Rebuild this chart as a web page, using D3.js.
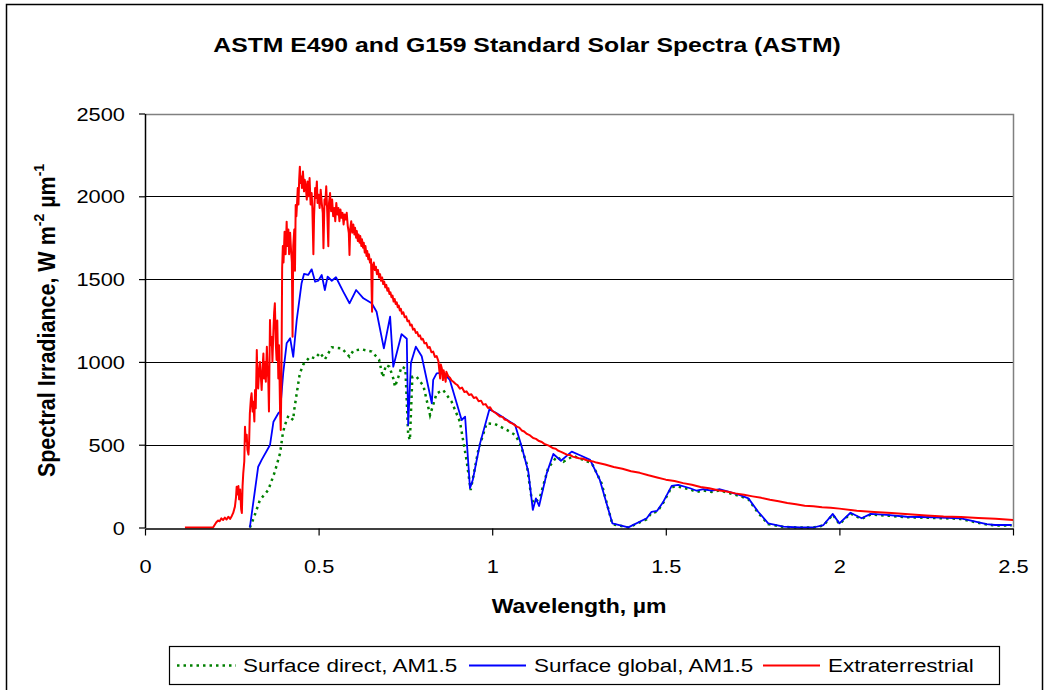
<!DOCTYPE html>
<html>
<head>
<meta charset="utf-8">
<script src="https://cdn.jsdelivr.net/npm/d3@7"></script>
<style>
  body { margin: 0; background: #fff; }
  text { font-family: "Liberation Sans", Arial, sans-serif; fill: #000; }
</style>
</head>
<body>
<script>
// wavelength (µm), spectral irradiance (W m-2 µm-1)
const extraterrestrial = [
  [0.115, 0], [0.196, 0], [0.205, 30], [0.210, 42], [0.215, 38], [0.220, 55], [0.225, 45], [0.230, 60],
  [0.235, 48], [0.240, 65], [0.245, 52], [0.250, 70], [0.254, 88], [0.259, 126], [0.262, 180], [0.264, 246],
  [0.267, 200], [0.269, 250], [0.271, 170], [0.274, 230], [0.277, 110], [0.279, 87], [0.281, 250], [0.283, 327],
  [0.286, 400], [0.288, 609], [0.290, 520], [0.293, 560], [0.295, 470], [0.298, 440], [0.300, 520], [0.302, 690],
  [0.305, 780], [0.307, 810], [0.310, 700], [0.312, 760], [0.315, 640], [0.317, 830], [0.319, 720], [0.322, 1072],
  [0.324, 900], [0.326, 840], [0.329, 960], [0.331, 1000], [0.334, 900], [0.336, 830], [0.339, 980], [0.341, 1050],
  [0.343, 900], [0.346, 1000], [0.348, 880], [0.351, 1092], [0.353, 950], [0.355, 900], [0.357, 700], [0.360, 1253],
  [0.362, 1100], [0.365, 1150], [0.367, 1000], [0.370, 1200], [0.372, 1300], [0.374, 1354], [0.377, 1100], [0.379, 1012],
  [0.381, 1250], [0.384, 900], [0.386, 1100], [0.389, 710], [0.391, 589], [0.393, 900], [0.395, 1565], [0.397, 1700],
  [0.399, 1600], [0.402, 1786], [0.405, 1650], [0.408, 1847], [0.410, 1700], [0.413, 1800], [0.415, 1650], [0.418, 1780],
  [0.420, 1700], [0.423, 1600], [0.425, 1152], [0.427, 1700], [0.430, 1800], [0.432, 1550], [0.434, 1948], [0.436, 1880],
  [0.438, 1960], [0.440, 2050], [0.442, 1950], [0.444, 2100], [0.446, 2179], [0.448, 2080], [0.450, 2120], [0.452, 2050],
  [0.455, 2150], [0.458, 2030], [0.460, 2100], [0.463, 2060], [0.466, 1980], [0.468, 2090], [0.471, 2000], [0.474, 2110],
  [0.477, 1950], [0.480, 2020], [0.482, 1930], [0.485, 1650], [0.487, 1880], [0.490, 2050], [0.492, 1990], [0.495, 2090],
  [0.497, 1960], [0.500, 2010], [0.503, 1930], [0.506, 2040], [0.509, 1960], [0.512, 1900], [0.514, 1686], [0.517, 1980],
  [0.519, 1950], [0.522, 2060], [0.525, 1900], [0.528, 1698], [0.530, 1960], [0.533, 2020], [0.536, 1910], [0.539, 1980],
  [0.542, 1880], [0.545, 1930], [0.548, 1850], [0.551, 1960], [0.554, 1890], [0.557, 1930], [0.560, 1850], [0.563, 1920],
  [0.566, 1870], [0.569, 1900], [0.572, 1830], [0.575, 1890], [0.578, 1860], [0.581, 1900], [0.584, 1820], [0.587, 1780],
  [0.589, 1646], [0.591, 1800], [0.594, 1850], [0.597, 1780], [0.600, 1830], [0.603, 1770], [0.605, 1810], [0.608, 1750],
  [0.610, 1790], [0.613, 1730], [0.615, 1770], [0.618, 1720], [0.620, 1760], [0.623, 1700], [0.625, 1740], [0.628, 1690],
  [0.630, 1720], [0.633, 1660], [0.635, 1700], [0.638, 1640], [0.640, 1670], [0.643, 1620], [0.645, 1650], [0.648, 1600],
  [0.651, 1620], [0.654, 1303], [0.656, 1580], [0.659, 1600], [0.662, 1555], [0.665, 1575], [0.668, 1530], [0.671, 1555],
  [0.674, 1510], [0.677, 1530], [0.680, 1490], [0.683, 1510], [0.686, 1470], [0.689, 1485], [0.692, 1450], [0.695, 1465],
  [0.698, 1430], [0.701, 1445], [0.704, 1410], [0.707, 1420], [0.710, 1390], [0.713, 1400], [0.716, 1365], [0.719, 1380],
  [0.722, 1350], [0.725, 1360], [0.728, 1330], [0.731, 1340], [0.734, 1310], [0.737, 1320], [0.740, 1290], [0.744, 1300],
  [0.748, 1270], [0.752, 1275], [0.756, 1245], [0.760, 1250], [0.764, 1220], [0.768, 1225], [0.772, 1195], [0.776, 1200],
  [0.780, 1175], [0.784, 1180], [0.788, 1155], [0.792, 1160], [0.796, 1135], [0.800, 1140], [0.805, 1112], [0.810, 1115],
  [0.815, 1085], [0.820, 1090], [0.825, 1058], [0.830, 1062], [0.835, 1030], [0.840, 1035], [0.845, 1005], [0.850, 900],
  [0.852, 985], [0.855, 960], [0.858, 890], [0.860, 950], [0.866, 880], [0.868, 940], [0.873, 915], [0.878, 905],
  [0.883, 888], [0.888, 880], [0.894, 868], [0.900, 860], [0.907, 838], [0.913, 845], [0.920, 818], [0.926, 822],
  [0.933, 800], [0.940, 805], [0.947, 782], [0.954, 786], [0.961, 762], [0.968, 766], [0.974, 742], [0.981, 745],
  [0.988, 722], [0.994, 726], [1.000, 705], [1.011, 690], [1.022, 670], [1.030, 668], [1.036, 652], [1.043, 648],
  [1.050, 635], [1.060, 626], [1.071, 609], [1.078, 603], [1.085, 586], [1.092, 580], [1.100, 565], [1.109, 556],
  [1.118, 540], [1.126, 535], [1.135, 522], [1.143, 516], [1.150, 505], [1.163, 494], [1.176, 478], [1.183, 476],
  [1.190, 464], [1.200, 455], [1.215, 440], [1.224, 438], [1.232, 428], [1.250, 418], [1.262, 415], [1.272, 406],
  [1.290, 399], [1.300, 392], [1.325, 380], [1.350, 365], [1.375, 355], [1.400, 340], [1.425, 330], [1.450, 315],
  [1.475, 302], [1.500, 289], [1.525, 281], [1.550, 268], [1.575, 258], [1.600, 245], [1.625, 237], [1.650, 225],
  [1.675, 217], [1.700, 206], [1.725, 198], [1.750, 188], [1.775, 179], [1.800, 168], [1.825, 159], [1.850, 148],
  [1.875, 141], [1.900, 132], [1.925, 128], [1.950, 122], [1.975, 119], [2.000, 114], [2.050, 101], [2.100, 93],
  [2.150, 87], [2.200, 80], [2.250, 73], [2.300, 67], [2.350, 64], [2.400, 58], [2.450, 53], [2.500, 45]
];

const surfaceGlobal = [
  [0.302, 0], [0.326, 367], [0.336, 408], [0.360, 498], [0.370, 639], [0.384, 690], [0.389, 700], [0.398, 931],
  [0.408, 1112], [0.418, 1143], [0.427, 1031], [0.437, 1253], [0.451, 1475], [0.458, 1531], [0.470, 1525], [0.480, 1559],
  [0.490, 1484], [0.499, 1490], [0.509, 1525], [0.518, 1434], [0.526, 1515], [0.538, 1490], [0.550, 1511], [0.571, 1424],
  [0.589, 1354], [0.608, 1434], [0.629, 1384], [0.653, 1354], [0.667, 1303], [0.688, 1082], [0.706, 1273], [0.715, 971],
  [0.739, 1168], [0.754, 1140], [0.758, 619], [0.766, 995], [0.780, 1092], [0.797, 1034], [0.826, 750], [0.830, 891],
  [0.840, 931], [0.859, 935], [0.878, 891], [0.912, 649], [0.922, 669], [0.936, 237], [0.944, 287], [0.965, 508],
  [0.992, 714], [1.013, 690], [1.066, 619], [1.085, 488], [1.104, 337], [1.117, 106], [1.126, 176], [1.135, 130],
  [1.157, 327], [1.176, 444], [1.198, 403], [1.229, 458], [1.258, 432], [1.282, 408], [1.310, 287], [1.346, 25],
  [1.392, 1], [1.445, 56], [1.459, 95], [1.475, 101], [1.493, 156], [1.517, 251], [1.536, 257], [1.570, 237],
  [1.589, 222], [1.608, 231], [1.632, 222], [1.656, 231], [1.680, 216], [1.714, 196], [1.738, 176], [1.766, 95],
  [1.795, 25], [1.839, 5], [1.886, 0], [1.925, 0], [1.954, 15], [1.981, 82], [2.000, 25], [2.032, 89],
  [2.064, 56], [2.090, 82], [2.136, 76], [2.194, 65], [2.270, 62], [2.347, 56], [2.424, 21], [2.448, 15], [2.496, 15]
];

const surfaceDirect = [
  [0.302, 0], [0.314, 62], [0.331, 166], [0.355, 226], [0.374, 337], [0.389, 448], [0.397, 569], [0.403, 619],
  [0.413, 675], [0.427, 649], [0.429, 699], [0.437, 810], [0.446, 931], [0.456, 985], [0.475, 1031], [0.490, 1021],
  [0.504, 1055], [0.518, 1015], [0.538, 1088], [0.567, 1082], [0.589, 1031], [0.600, 1068], [0.624, 1076], [0.653, 1062],
  [0.674, 1015], [0.685, 907], [0.694, 981], [0.704, 971], [0.715, 901], [0.720, 850], [0.730, 911], [0.739, 971],
  [0.750, 960], [0.758, 560], [0.763, 528], [0.770, 911], [0.782, 911], [0.802, 855], [0.821, 679], [0.840, 810],
  [0.859, 830], [0.883, 760], [0.907, 639], [0.926, 408], [0.938, 226], [0.960, 468], [0.984, 629], [1.008, 625],
  [1.042, 589], [1.066, 559], [1.080, 508], [1.099, 388], [1.114, 166], [1.123, 146], [1.138, 186], [1.161, 357],
  [1.186, 428], [1.205, 397], [1.234, 432], [1.262, 408], [1.287, 388], [1.315, 267], [1.346, 20], [1.392, 0],
  [1.445, 50], [1.459, 88], [1.475, 95], [1.493, 150], [1.517, 245], [1.536, 247], [1.570, 230], [1.589, 215],
  [1.608, 224], [1.632, 215], [1.656, 224], [1.680, 209], [1.714, 190], [1.738, 170], [1.766, 88], [1.795, 20],
  [1.839, 3], [1.886, 0], [1.925, 0], [1.954, 12], [1.981, 78], [2.000, 20], [2.032, 84], [2.064, 52],
  [2.090, 78], [2.136, 72], [2.194, 62], [2.270, 58], [2.347, 52], [2.424, 18], [2.448, 12], [2.496, 12]
];

const xTicks = [0, 0.5, 1, 1.5, 2, 2.5];
const yTicks = [0, 500, 1000, 1500, 2000, 2500];
const seriesNames = ['Surface direct, AM1.5', 'Surface global, AM1.5', 'Extraterrestrial'];

const width = 1045;
const height = 690;
const margin = { top: 113.5, right: 32, bottom: 162.5, left: 145 };
const SX = 1.18; // the reference text is drawn a little wide

const svg = d3.select('body')
  .append('svg')
  .attr('width', width)
  .attr('height', height);

// chart border
svg.append('rect')
  .attr('x', 6.5)
  .attr('y', 4.5)
  .attr('width', 1036)
  .attr('height', 700)
  .attr('fill', 'none')
  .attr('stroke', '#000')
  .attr('stroke-width', 1.5);

const x = d3.scaleLinear()
  .domain([0, 2.5])
  .range([margin.left, width - margin.right]);

const y = d3.scaleLinear()
  .domain([0, 2500])
  .range([height - margin.bottom, margin.top]);

const wideText = (sel, tx, ty) => sel.attr('transform', `translate(${tx},${ty}) scale(${SX},1)`);

// gridlines
svg.append('g')
  .selectAll('line')
  .data(yTicks.filter(d => d > 0 && d < 2500))
  .join('line')
  .attr('x1', x(0))
  .attr('x2', x(2.5))
  .attr('y1', d => Math.round(y(d)) + 0.5)
  .attr('y2', d => Math.round(y(d)) + 0.5)
  .attr('stroke', '#000')
  .attr('stroke-width', 1);

// plot frame (top and right)
svg.append('path')
  .attr('d', `M${x(0)},${Math.round(y(2500)) + 0.5}H${Math.round(x(2.5)) + 0.5}V${y(0)}`)
  .attr('fill', 'none')
  .attr('stroke', '#808080')
  .attr('stroke-width', 1.5);

const line = d3.line()
  .x(d => x(d[0]))
  .y(d => y(d[1]));

const plot = svg.append('g');

plot.append('path')
  .datum(surfaceDirect)
  .attr('d', line)
  .attr('fill', 'none')
  .attr('stroke', '#008000')
  .attr('stroke-width', 2.5)
  .attr('stroke-dasharray', '2.5,4');

plot.append('path')
  .datum(surfaceGlobal)
  .attr('d', line)
  .attr('fill', 'none')
  .attr('stroke', '#0000ff')
  .attr('stroke-width', 1.8)
  .attr('stroke-linejoin', 'round');

plot.append('path')
  .datum(extraterrestrial)
  .attr('d', line)
  .attr('fill', 'none')
  .attr('stroke', '#ff0000')
  .attr('stroke-width', 2)
  .attr('stroke-linejoin', 'round');

// axes
const xAxis = svg.append('g')
  .attr('transform', `translate(0,${Math.round(y(0)) + 0.5})`)
  .call(d3.axisBottom(x).tickValues(xTicks).tickSize(7).tickSizeOuter(0).tickFormat(d3.format('~g')));

const yAxis = svg.append('g')
  .attr('transform', `translate(${x(0)},0)`)
  .call(d3.axisLeft(y).tickValues(yTicks).tickSize(6).tickSizeOuter(0).tickFormat(d3.format('d')));

[xAxis, yAxis].forEach(a => {
  a.select('.domain').attr('stroke', '#000').attr('stroke-width', 1.5);
  a.selectAll('.tick line').attr('stroke', '#000').attr('stroke-width', 1.2);
  a.selectAll('.tick text')
    .attr('font-family', '"Liberation Sans", Arial, sans-serif')
    .attr('font-size', 18.5)
    .attr('fill', '#000');
});

xAxis.selectAll('.tick text')
  .attr('y', 0)
  .attr('dy', 0)
  .attr('transform', `translate(0,44) scale(${SX},1)`);

yAxis.selectAll('.tick text')
  .attr('x', 0)
  .attr('dy', 0)
  .attr('transform', `translate(-20,6.5) scale(${SX},1)`);

// title
svg.append('text')
  .text('ASTM E490 and G159 Standard Solar Spectra (ASTM)')
  .attr('font-size', 21)
  .attr('font-weight', 'bold')
  .attr('text-anchor', 'middle')
  .call(wideText, 527, 52);

// x axis title
svg.append('text')
  .text('Wavelength, µm')
  .attr('font-size', 19.5)
  .attr('font-weight', 'bold')
  .attr('text-anchor', 'middle')
  .call(wideText, (x(0) + x(2.5)) / 2, 613);

// y axis title
const yTitle = svg.append('text')
  .attr('font-size', 21.5)
  .attr('font-weight', 'bold')
  .attr('text-anchor', 'middle')
  .attr('transform', `translate(55,${(y(0) + y(2500)) / 2}) rotate(-90) scale(1,1.1)`);

yTitle.append('tspan').text('Spectral Irradiance, W m');
yTitle.append('tspan').text('-2').attr('font-size', 14).attr('dy', -10);
yTitle.append('tspan').text(' µm').attr('dy', 10);
yTitle.append('tspan').text('-1').attr('font-size', 14).attr('dy', -10);

// legend
const legend = svg.append('g');

legend.append('rect')
  .attr('x', 169.5)
  .attr('y', 646.5)
  .attr('width', 830)
  .attr('height', 38)
  .attr('fill', '#fff')
  .attr('stroke', '#000')
  .attr('stroke-width', 1.2);

const legendItems = [
  { name: seriesNames[0], color: '#008000', dash: '2.5,4', width: 2.5, x0: 177, x1: 236, tx: 243 },
  { name: seriesNames[1], color: '#0000ff', dash: null, width: 1.8, x0: 469, x1: 526, tx: 534 },
  { name: seriesNames[2], color: '#ff0000', dash: null, width: 2, x0: 763, x1: 820, tx: 828 }
];

legendItems.forEach(d => {
  legend.append('line')
    .attr('x1', d.x0)
    .attr('x2', d.x1)
    .attr('y1', 665.5)
    .attr('y2', 665.5)
    .attr('stroke', d.color)
    .attr('stroke-width', d.width)
    .attr('stroke-dasharray', d.dash);

  legend.append('text')
    .text(d.name)
    .attr('font-size', 19)
    .call(wideText, d.tx, 672);
});
</script>
</body>
</html>
